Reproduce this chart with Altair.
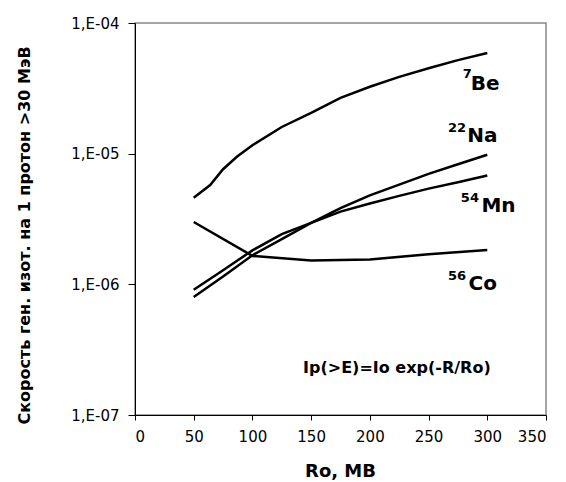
import altair as alt
import pandas as pd

# ---- data ----
x_be = [50, 64, 75, 87, 100, 125, 150, 175, 200, 225, 250, 275, 300]
be7 = [4.6e-6, 5.75e-6, 7.6e-6, 9.5e-6, 1.16e-5, 1.6e-5, 2.05e-5, 2.67e-5, 3.25e-5, 3.87e-5, 4.5e-5, 5.2e-5, 5.9e-5]

x_std = [50, 75, 100, 125, 150, 175, 200, 225, 250, 275, 300]
na22 = [8.0e-7, 1.15e-6, 1.67e-6, 2.22e-6, 2.95e-6, 3.83e-6, 4.8e-6, 5.8e-6, 7.0e-6, 8.3e-6, 9.8e-6]
mn54 = [9.1e-7, 1.28e-6, 1.82e-6, 2.42e-6, 2.95e-6, 3.6e-6, 4.15e-6, 4.75e-6, 5.4e-6, 6.05e-6, 6.8e-6]

x_co = [50, 100, 150, 200, 250, 300]
co56 = [3.0e-6, 1.65e-6, 1.52e-6, 1.55e-6, 1.7e-6, 1.83e-6]

x_ticks = [0, 50, 100, 150, 200, 250, 300, 350]
y_ticks = [1e-7, 1e-6, 1e-5, 1e-4]

# label anchors (data coordinates)
elem_names = ["Be", "Na", "Mn", "Co"]
elem_mass = ["7", "22", "54", "56"]
name_x = [286, 283, 295, 284]
name_y = [3.07e-5, 1.23e-5, 3.58e-6, 9.06e-7]
mass_x = [279, 266.5, 277.5, 266.5]
mass_y = [3.79e-5, 1.47e-5, 4.27e-6, 1.08e-6]

formula = "Ip(>E)=Io exp(-R/Ro)"
formula_x = [223]
formula_y = [2.29e-7]

FONT = "DejaVu Sans"

rows = []
for name, xs, ys in [("Be7", x_be, be7), ("Na22", x_std, na22),
                     ("Mn54", x_std, mn54), ("Co56", x_co, co56)]:
    for xv, yv in zip(xs, ys):
        rows.append({"series": name, "x": xv, "y": yv})
lines_df = pd.DataFrame(rows)

names_df = pd.DataFrame({"t": elem_names, "x": name_x, "y": name_y})
mass_df = pd.DataFrame({"t": elem_mass, "x": mass_x, "y": mass_y})
form_df = pd.DataFrame({"t": [formula], "x": formula_x, "y": formula_y})

xscale = alt.Scale(domain=[0, 350], nice=False, zero=False)
yscale = alt.Scale(type="log", domain=[1e-7, 1e-4], nice=False)

x_enc = alt.X("x:Q", scale=xscale, axis=alt.Axis(
    values=x_ticks, title="Ro, MB", grid=False,
    domainColor="black", tickColor="black", tickSize=5,
    labelFont=FONT, labelFontSize=15, labelColor="black", labelPadding=9,
    titleFont=FONT, titleFontSize=18, titleFontWeight="bold", titleColor="black",
    titleX=205, titleY=61, titleBaseline="alphabetic", titleAlign="center"))
y_enc = alt.Y("y:Q", scale=yscale, axis=alt.Axis(
    values=y_ticks, grid=False,
    labelExpr="'1,E-0' + format(-round(log(datum.value)/LN10), 'd')",
    title="Скорость ген. изот. на 1 протон >30 МэВ",
    domainColor="black", tickColor="black", tickSize=7,
    labelFont=FONT, labelFontSize=15, labelColor="black", labelPadding=9,
    titleFont=FONT, titleFontSize=16, titleFontWeight="bold", titleColor="black",
    titleX=-106, titleY=212, titleAngle=270, titleBaseline="alphabetic",
    titleAlign="center"))

lines = alt.Chart(lines_df).mark_line(color="black", strokeWidth=2.5).encode(
    x=x_enc, y=y_enc, detail="series:N", order=alt.Order("x:Q"))

names = alt.Chart(names_df).mark_text(
    font=FONT, fontSize=20, fontWeight="bold", align="left",
    baseline="alphabetic", color="black").encode(
    x=alt.X("x:Q", scale=xscale), y=alt.Y("y:Q", scale=yscale), text="t:N")

masses = alt.Chart(mass_df).mark_text(
    font=FONT, fontSize=13, fontWeight="bold", align="left",
    baseline="alphabetic", color="black").encode(
    x=alt.X("x:Q", scale=xscale), y=alt.Y("y:Q", scale=yscale), text="t:N")

form = alt.Chart(form_df).mark_text(
    font=FONT, fontSize=16, fontWeight="bold", align="center",
    baseline="middle", color="black").encode(
    x=alt.X("x:Q", scale=xscale), y=alt.Y("y:Q", scale=yscale), text="t:N")

chart = alt.layer(lines, names, masses, form).properties(
    width=411, height=392,
    autosize=alt.AutoSizeParams(type="none"),
    padding={"left": 127, "top": 15, "right": 12, "bottom": 66},
    background="white",
).configure_view(stroke="#888888", strokeWidth=1.5)

chart.save("out.html", embed_options={"renderer": "svg", "actions": False})
